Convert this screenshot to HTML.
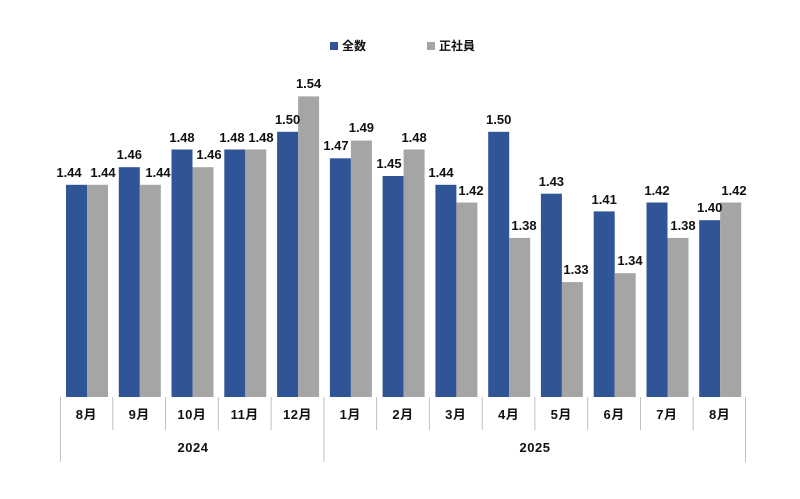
<!DOCTYPE html>
<html><head><meta charset="utf-8"><style>
html,body{margin:0;padding:0;background:#fff}
svg text{font-family:"Liberation Sans","Noto Sans CJK JP",sans-serif;font-weight:bold;fill:#111}
</style></head><body>
<svg width="800" height="494" viewBox="0 0 800 494" xmlns="http://www.w3.org/2000/svg">
<rect x="330" y="42" width="8" height="8" fill="#2F5597"/>
<text x="342" y="50" font-size="12">全数</text>
<rect x="427" y="42" width="8" height="8" fill="#A5A5A5"/>
<text x="439" y="50" font-size="12">正社員</text>
<g font-size="13" text-anchor="middle">
<g fill="#2F5597">
<rect x="66" y="184.8" width="21" height="212.2"/>
<rect x="118.8" y="167.2" width="21" height="229.8"/>
<rect x="171.5" y="149.5" width="21" height="247.5"/>
<rect x="224.3" y="149.5" width="21" height="247.5"/>
<rect x="277.1" y="131.8" width="21" height="265.2"/>
<rect x="329.9" y="158.3" width="21" height="238.7"/>
<rect x="382.6" y="176" width="21" height="221"/>
<rect x="435.4" y="184.8" width="21" height="212.2"/>
<rect x="488.2" y="131.8" width="21" height="265.2"/>
<rect x="540.9" y="193.7" width="21" height="203.3"/>
<rect x="593.7" y="211.4" width="21" height="185.6"/>
<rect x="646.5" y="202.5" width="21" height="194.5"/>
<rect x="699.2" y="220.2" width="21" height="176.8"/>
</g>
<g fill="#A5A5A5">
<rect x="87" y="184.8" width="21" height="212.2"/>
<rect x="139.8" y="184.8" width="21" height="212.2"/>
<rect x="192.5" y="167.2" width="21" height="229.8"/>
<rect x="245.3" y="149.5" width="21" height="247.5"/>
<rect x="298.1" y="96.4" width="21" height="300.6"/>
<rect x="350.9" y="140.6" width="21" height="256.4"/>
<rect x="403.6" y="149.5" width="21" height="247.5"/>
<rect x="456.4" y="202.5" width="21" height="194.5"/>
<rect x="509.2" y="237.9" width="21" height="159.1"/>
<rect x="561.9" y="282.1" width="21" height="114.9"/>
<rect x="614.7" y="273.2" width="21" height="123.8"/>
<rect x="667.5" y="237.9" width="21" height="159.1"/>
<rect x="720.2" y="202.5" width="21" height="194.5"/>
</g>
<text x="69" y="177">1.44</text>
<text x="103" y="177">1.44</text>
<text x="129.3" y="159">1.46</text>
<text x="158" y="177">1.44</text>
<text x="182" y="142">1.48</text>
<text x="209" y="159">1.46</text>
<text x="232" y="142">1.48</text>
<text x="261" y="142">1.48</text>
<text x="287.6" y="124">1.50</text>
<text x="308.6" y="88">1.54</text>
<text x="336" y="150">1.47</text>
<text x="361.4" y="132">1.49</text>
<text x="389" y="168">1.45</text>
<text x="414.1" y="142">1.48</text>
<text x="441" y="177">1.44</text>
<text x="471" y="195">1.42</text>
<text x="498.7" y="124">1.50</text>
<text x="524" y="230">1.38</text>
<text x="551.4" y="186">1.43</text>
<text x="576" y="274">1.33</text>
<text x="604.2" y="204">1.41</text>
<text x="630" y="265">1.34</text>
<text x="657" y="195">1.42</text>
<text x="683" y="230">1.38</text>
<text x="709.7" y="212">1.40</text>
<text x="734" y="195">1.42</text>
</g>
<g stroke="#BFBFBF" stroke-width="1">
<line x1="60.5" y1="397" x2="60.5" y2="462"/>
<line x1="323.9" y1="397" x2="323.9" y2="462"/>
<line x1="745.5" y1="397" x2="745.5" y2="462"/>
<line x1="112.8" y1="397" x2="112.8" y2="430"/>
<line x1="165.5" y1="397" x2="165.5" y2="430"/>
<line x1="218.3" y1="397" x2="218.3" y2="430"/>
<line x1="271.1" y1="397" x2="271.1" y2="430"/>
<line x1="376.6" y1="397" x2="376.6" y2="430"/>
<line x1="429.4" y1="397" x2="429.4" y2="430"/>
<line x1="482.2" y1="397" x2="482.2" y2="430"/>
<line x1="534.9" y1="397" x2="534.9" y2="430"/>
<line x1="587.7" y1="397" x2="587.7" y2="430"/>
<line x1="640.5" y1="397" x2="640.5" y2="430"/>
<line x1="693.2" y1="397" x2="693.2" y2="430"/>
</g>
<g font-size="13" text-anchor="middle" letter-spacing="0.5">
<text x="86.4" y="419">8月</text>
<text x="139.2" y="419">9月</text>
<text x="191.9" y="419">10月</text>
<text x="244.7" y="419">11月</text>
<text x="297.5" y="419">12月</text>
<text x="350.3" y="419">1月</text>
<text x="403" y="419">2月</text>
<text x="455.8" y="419">3月</text>
<text x="508.6" y="419">4月</text>
<text x="561.3" y="419">5月</text>
<text x="614.1" y="419">6月</text>
<text x="666.9" y="419">7月</text>
<text x="719.6" y="419">8月</text>
<text x="193" y="452">2024</text>
<text x="535" y="452">2025</text>
</g>
</svg>
</body></html>
